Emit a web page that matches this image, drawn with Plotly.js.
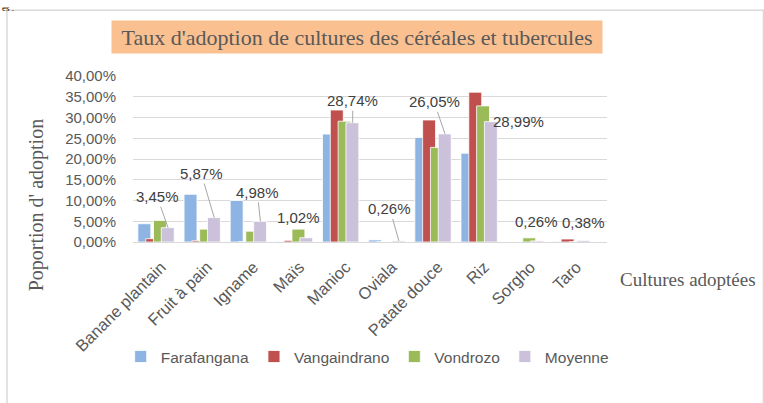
<!DOCTYPE html>
<html><head><meta charset="utf-8">
<script src="https://cdn.plot.ly/plotly-3.0.1.min.js"></script>
<style>html,body{margin:0;padding:0;background:#fff}</style>
</head><body><div id="chart" style="width:764px;height:403px"></div>
<script>
const categories = ['Banane plantain','Fruit à pain','Igname','Maïs','Manioc','Oviala','Patate douce','Riz','Sorgho','Taro'];
const farafangana  = [4.4, 11.5, 10.0, 0.1, 26.0, 0.5, 25.2, 21.4, 0, 0.1];
const vangaindrano = [0.8, 0.3, 0, 0.4, 31.8, 0, 29.4, 36.1, 0, 0.72];
const vondrozo     = [5.2, 3.1, 2.6, 3.1, 29.1, 0, 22.8, 32.8, 1.0, 0];
const moyenne      = [3.45, 5.87, 4.98, 1.02, 28.74, 0.26, 26.05, 28.99, 0.26, 0.38];
const seriesNames  = ['Farafangana','Vangaindrano','Vondrozo','Moyenne'];
const yTicks       = [0,5,10,15,20,25,30,35,40];

const colors = ['#8DB4E2','#C0504D','#9BBB59','#CCC1DA'];
const offsets = [-0.394,-0.225,-0.056,0.113];
const barW = 0.28;
const sans = 'Liberation Sans, Arial, sans-serif';
const serif = 'Liberation Serif, Times New Roman, serif';

const fmt = v => v.toFixed(2).replace('.',',') + '%';

const allSeries = [farafangana, vangaindrano, vondrozo, moyenne];
const traces = allSeries.map((vals,k)=>({
  type:'bar', name: seriesNames[k], x: categories, y: vals,
  offset: offsets[k], width: barW,
  marker:{color: colors[k], line:{color:'#FFFFFF', width:0.8}},
  hoverinfo:'skip'
}));

// label placement (pixel offsets of text from bar top), and whether a leader line is drawn
const labelPlace = [[-11,-31,1],[-13,-44,1],[-3,-29,1],[-8,-20,0],[0,-22,1],[-9,-32,1],[-11,-32,1],[27,0,0],[-1,-19,0],[0,-18,0]];
const annotations = moyenne.map((v,i)=>({
  x: categories[i], y: v, xref:'x', yref:'y', xshift: 12,
  text: fmt(v), showarrow: true, ax: labelPlace[i][0], ay: labelPlace[i][1],
  arrowhead: 0, arrowwidth: 1, standoff: 0,
  arrowcolor: labelPlace[i][2] ? '#A6A6A6' : 'rgba(0,0,0,0)',
  font:{family: sans, size: 15, color:'#404040'}
}));

annotations.push({
  xref:'paper', yref:'paper', x: 0.4736, y: 1.235, xanchor:'center', yanchor:'middle',
  text:"Taux d'adoption de cultures des céréales et tubercules", showarrow:false,
  font:{family: serif, size: 22, color:'#595959'}, bgcolor:'#FAC090',
  width: 484, height: 26, borderpad: 3
});
annotations.push({
  xref:'paper', yref:'paper', x: -0.2046, y: 0.221, xanchor:'center', yanchor:'middle',
  text:"Poportion d' adoption", textangle: -90, showarrow:false,
  font:{family: serif, size: 20, color:'#595959'}
});
annotations.push({
  xref:'paper', yref:'paper', x: 1.171, y: -0.225, xanchor:'center', yanchor:'middle',
  text:"Cultures adoptées", showarrow:false,
  font:{family: serif, size: 19, color:'#595959'}
});
annotations.push({
  xref:'paper', yref:'paper', x: -0.279, y: 1.448, xanchor:'left', yanchor:'top',
  text:"es .", showarrow:false, borderpad: 0,
  font:{family: serif, size: 9, color:'#000000'}
});

const layout = {
  width: 764, height: 403,
  margin:{l:133, r:157, t:76, b:161, pad:0},
  paper_bgcolor:'#FFFFFF', plot_bgcolor:'#FFFFFF',
  barmode:'overlay',
  showlegend: true,
  legend:{orientation:'h', x:-0.026, y:-0.59, xanchor:'left', yanchor:'top',
    font:{family: sans, size: 15.5, color:'#595959'}, traceorder:'normal'},
  xaxis:{type:'category', tickangle:-45, showgrid:false, showline:true, linecolor:'#D9D9D9', linewidth:1,
    ticks:'', ticklabelstandoff: 8, ticklabelshift: 5,
    tickfont:{family: sans, size:16.5, color:'#595959'}, fixedrange:true},
  yaxis:{range:[0,40], tickvals: yTicks, ticktext: yTicks.map(fmt), showgrid:true,
    gridcolor:'#D9D9D9', gridwidth:1, zeroline:false, showline:false, ticks:'',
    ticklabelstandoff: 16,
    tickfont:{family: sans, size:15, color:'#595959'}, fixedrange:true},
  annotations: annotations,
  shapes:[{type:'rect', xref:'paper', yref:'paper', x0:-0.2658, x1:1.33, y0:-1.0, y1:1.396,
    line:{color:'#D9D9D9', width:1.5}, fillcolor:'rgba(0,0,0,0)', layer:'below'}]
};

Plotly.newPlot('chart', traces, layout, {displayModeBar:false, staticPlot:true});
</script></body></html>
